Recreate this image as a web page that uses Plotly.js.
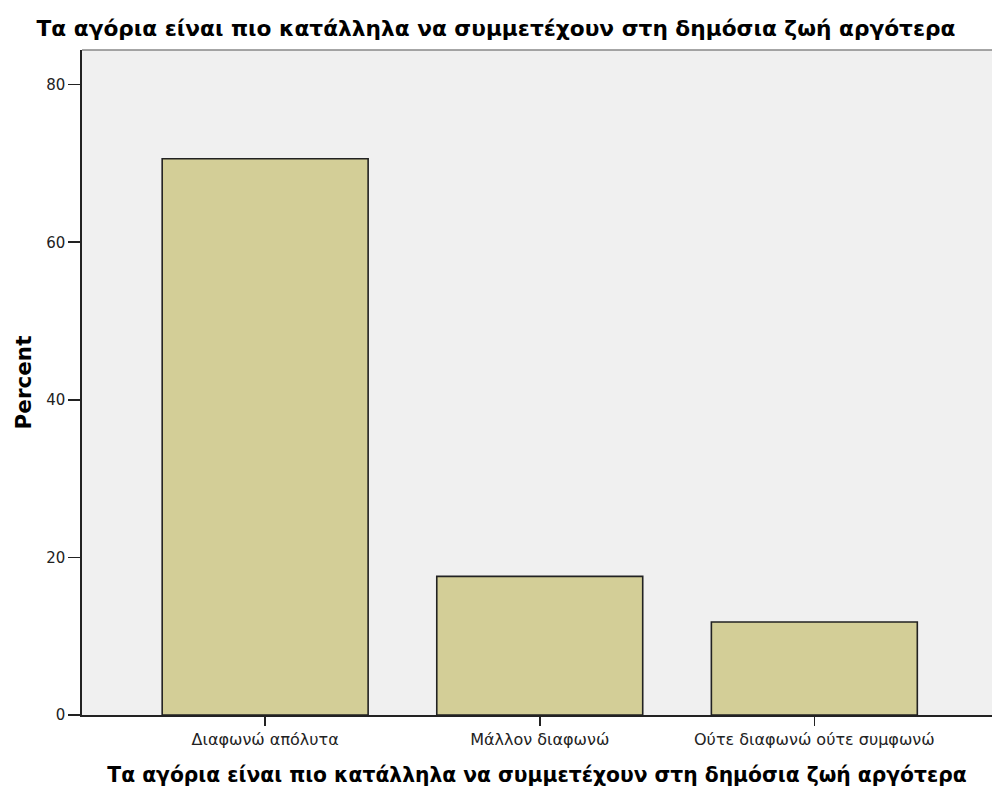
<!DOCTYPE html>
<html>
<head>
<meta charset="utf-8">
<script src="https://cdn.plot.ly/plotly-3.0.1.min.js"></script>
<style>html,body{margin:0;padding:0;background:#fff;}#chart{width:992px;height:790px;}</style>
</head>
<body>
<div id="chart"></div>
<script>
const categories = ["Διαφωνώ απόλυτα", "Μάλλον διαφωνώ", "Ούτε διαφωνώ ούτε συμφωνώ"];
const percents = [70.6, 17.6, 11.8];
const yTicks = [0, 20, 40, 60, 80];
const titleText = "Τα αγόρια είναι πιο κατάλληλα να συμμετέχουν στη δημόσια ζωή αργότερα";

const trace = {
  type: "bar",
  x: categories,
  y: percents,
  width: 0.75,
  marker: {color: "#d3ce97", line: {color: "#222222", width: 1.6}},
  hoverinfo: "x+y"
};

const layout = {
  width: 992, height: 790,
  margin: {l: 82, r: 0, t: 50, b: 75},
  paper_bgcolor: "#ffffff",
  plot_bgcolor: "#f0f0f0",
  showlegend: false,
  title: {text: titleText, x: 0.5, xanchor: "center", y: 0.964, yanchor: "middle",
          font: {family: "DejaVu Sans", size: 21.7, color: "#000", weight: "bold"}},
  xaxis: {
    type: "category",
    range: [-0.667, 2.647],
    showline: true, linecolor: "#222", linewidth: 1.6,
    ticks: "outside", ticklen: 9, tickcolor: "#222", tickwidth: 1.6,
    tickfont: {family: "DejaVu Sans", size: 16, color: "#222"},
    title: {text: titleText, standoff: 20, font: {family: "DejaVu Sans", size: 20.3, color: "#000", weight: "bold"}},
    showgrid: false, zeroline: false, fixedrange: true
  },
  yaxis: {
    range: [0, 84.4],
    tickvals: yTicks, ticktext: yTicks.map(String),
    showline: true, linecolor: "#222", linewidth: 1.6,
    ticks: "outside", ticklen: 12, tickcolor: "#222", tickwidth: 1.6,
    tickfont: {family: "DejaVu Sans", size: 15, color: "#222"},
    title: {text: "Percent", standoff: 9, font: {family: "DejaVu Sans", size: 21.5, color: "#000", weight: "bold"}},
    showgrid: false, zeroline: false, fixedrange: true
  },
  shapes: [
    {type: "line", xref: "paper", yref: "paper", x0: 0, x1: 1, y0: 1, y1: 1, line: {color: "#888", width: 1.6}}
  ]
};

Plotly.newPlot("chart", [trace], layout, {displayModeBar: false, staticPlot: true});
</script>
</body>
</html>
